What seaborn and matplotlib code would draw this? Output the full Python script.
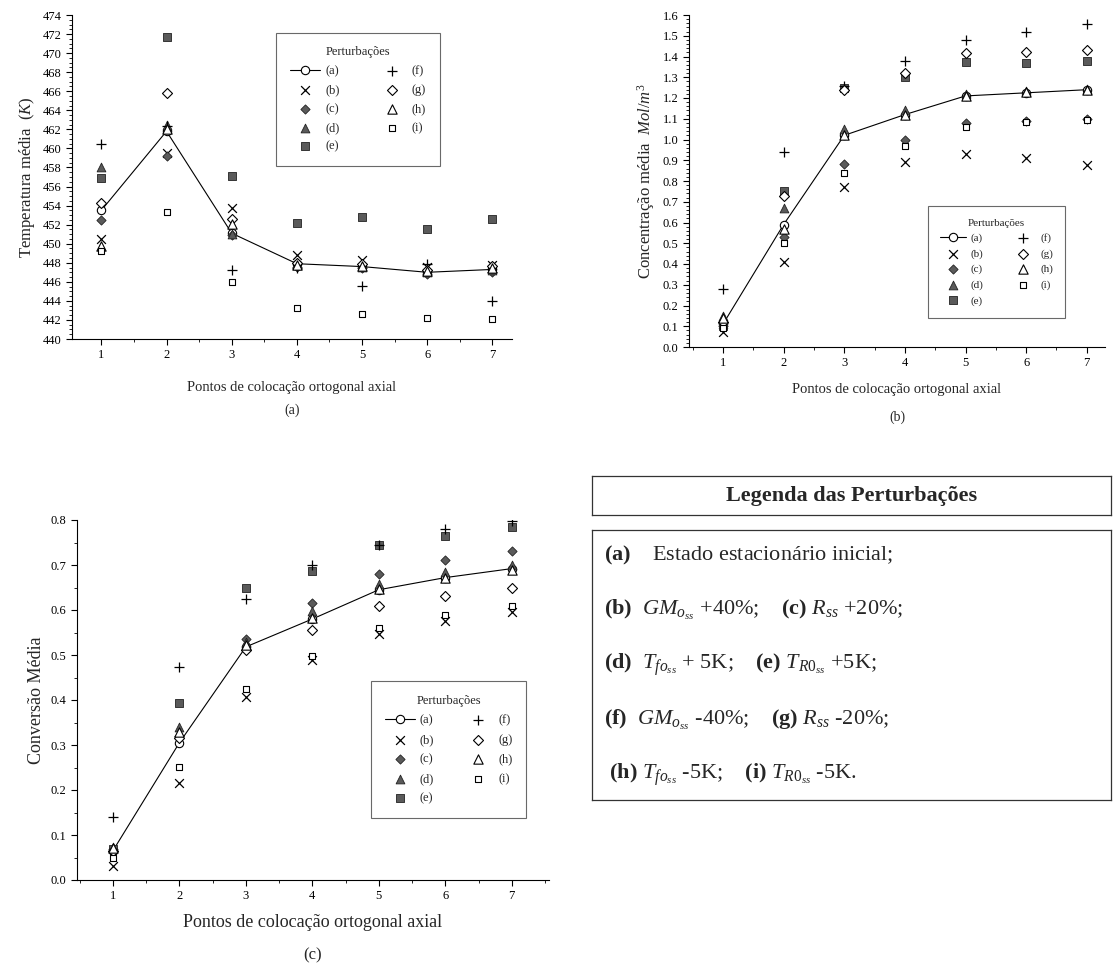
import matplotlib
matplotlib.use('Agg')
import matplotlib.pyplot as plt
import seaborn as sns
from matplotlib.ticker import MultipleLocator

# DATA ##

pontos = [1, 2, 3, 4, 5, 6, 7]
rotulos = ['(a)', '(b)', '(c)', '(d)', '(e)', '(f)', '(g)', '(h)', '(i)']

# Temperatura media (K)
temp_a = [453.5, 461.8, 451.1, 447.9, 447.6, 447.0, 447.3]
temp_b = [450.5, 459.5, 453.7, 448.8, 448.3, 447.6, 447.8]
temp_c = [452.5, 459.2, 450.9, 447.6, 447.4, 446.8, 447.0]
temp_d = [458.0, 462.5, 451.0, 447.8, 447.6, 447.0, 447.2]
temp_e = [456.9, 471.7, 457.1, 452.2, 452.8, 451.5, 452.6]
temp_f = [460.5, 462.3, 447.2, 447.5, 445.6, 447.9, 444.0]
temp_g = [454.3, 465.8, 452.6, 448.0, 447.9, 447.2, 447.7]
temp_h = [449.8, 462.0, 452.1, 447.8, 447.7, 447.1, 447.4]
temp_i = [449.2, 453.3, 446.0, 443.3, 442.6, 442.2, 442.1]

# Concentracao media (Mol/m3)
conc_a = [0.11, 0.59, 1.02, 1.12, 1.21, 1.225, 1.24]
conc_b = [0.07, 0.41, 0.77, 0.89, 0.93, 0.91, 0.875]
conc_c = [0.10, 0.53, 0.88, 1.00, 1.08, 1.087, 1.10]
conc_d = [0.15, 0.67, 1.05, 1.14, 1.22, 1.235, 1.245]
conc_e = [0.10, 0.75, 1.25, 1.30, 1.375, 1.37, 1.38]
conc_f = [0.28, 0.94, 1.26, 1.38, 1.48, 1.52, 1.555]
conc_g = [0.12, 0.73, 1.24, 1.32, 1.415, 1.42, 1.43]
conc_h = [0.14, 0.57, 1.02, 1.12, 1.21, 1.23, 1.24]
conc_i = [0.09, 0.50, 0.84, 0.97, 1.06, 1.085, 1.095]

# Conversao media
conv_a = [0.065, 0.305, 0.518, 0.580, 0.645, 0.672, 0.692]
conv_b = [0.032, 0.216, 0.407, 0.490, 0.546, 0.576, 0.596]
conv_c = [0.068, 0.320, 0.535, 0.616, 0.681, 0.711, 0.731]
conv_d = [0.073, 0.341, 0.530, 0.598, 0.657, 0.684, 0.701]
conv_e = [0.070, 0.393, 0.650, 0.687, 0.744, 0.764, 0.785]
conv_f = [0.140, 0.474, 0.625, 0.700, 0.745, 0.779, 0.798]
conv_g = [0.065, 0.316, 0.512, 0.556, 0.610, 0.631, 0.650]
conv_h = [0.072, 0.330, 0.522, 0.583, 0.646, 0.672, 0.690]
conv_i = [0.050, 0.252, 0.424, 0.498, 0.561, 0.590, 0.609]

temp = dict(zip(rotulos, [temp_a, temp_b, temp_c, temp_d, temp_e, temp_f, temp_g, temp_h, temp_i]))
conc = dict(zip(rotulos, [conc_a, conc_b, conc_c, conc_d, conc_e, conc_f, conc_g, conc_h, conc_i]))
conv = dict(zip(rotulos, [conv_a, conv_b, conv_c, conv_d, conv_e, conv_f, conv_g, conv_h, conv_i]))

# STYLE ##

sns.set_style('ticks')
plt.rcParams['font.family'] = ['Liberation Serif', 'DejaVu Serif']
plt.rcParams['mathtext.fontset'] = 'custom'
plt.rcParams['mathtext.rm'] = 'Liberation Serif'
plt.rcParams['mathtext.it'] = 'Liberation Serif:italic'
plt.rcParams['mathtext.bf'] = 'Liberation Serif:bold'

cinza = '#5a5a5a'
estilos = {
    '(b)': dict(marker='x', color='black', s=40, linewidth=0.9),
    '(c)': dict(marker='D', facecolor=cinza, edgecolor='#222222', s=22, linewidth=0.6),
    '(d)': dict(marker='^', facecolor=cinza, edgecolor='#222222', s=40, linewidth=0.6),
    '(e)': dict(marker='s', facecolor=cinza, edgecolor='#222222', s=26, linewidth=0.6),
    '(f)': dict(marker='+', color='black', s=45, linewidth=0.9),
    '(g)': dict(marker='D', facecolor='white', edgecolor='black', s=26, linewidth=0.8),
    '(h)': dict(marker='^', facecolor='white', edgecolor='black', s=45, linewidth=0.8),
    '(i)': dict(marker='s', facecolor='white', edgecolor='black', s=24, linewidth=0.8),
}


def desenha(ax, dados, anchor, fonte_leg, espaco, colunas):
    # Line for the initial steady state
    sns.lineplot(x=pontos, y=dados['(a)'], ax=ax, color='black', linewidth=0.8,
                 marker='o', markersize=6, markerfacecolor='white',
                 markeredgecolor='black', markeredgewidth=0.8, label='(a)')
    # Scatter for each perturbation
    for r in rotulos[1:]:
        sns.scatterplot(x=pontos, y=dados[r], ax=ax, label=r, zorder=3, **estilos[r])
    leg = ax.legend(ncol=2, title='Perturbações', loc='upper left', bbox_to_anchor=anchor,
                    frameon=True, fancybox=False, fontsize=fonte_leg, title_fontsize=fonte_leg,
                    handlelength=2.4, columnspacing=colunas, labelspacing=espaco, borderpad=1.1,
                    handletextpad=0.4)
    leg.get_frame().set_edgecolor('#444444')
    leg.get_frame().set_linewidth(0.8)
    sns.despine(ax=ax)
    ax.xaxis.set_major_locator(MultipleLocator(1))
    ax.xaxis.set_minor_locator(MultipleLocator(0.5))
    ax.tick_params(which='major', direction='out', length=4, width=0.8, colors='black')
    ax.tick_params(which='minor', direction='out', length=2, width=0.6, colors='black')
    for s in ax.spines.values():
        s.set_linewidth(0.8)
        s.set_color('black')


fig = plt.figure(figsize=(11.13, 9.65), dpi=100)
W, H = 1113, 965


def caixa(x0, y0, x1, y1):
    return [x0 / W, 1 - y1 / H, (x1 - x0) / W, (y1 - y0) / H]


# Panel (a)
ax1 = fig.add_axes(caixa(72, 15, 512, 339))
desenha(ax1, temp, (0.45, 0.965), 9, 0.55, 3.0)
ax1.set_xlim(0.55, 7.3)
ax1.set_ylim(440, 474)
ax1.yaxis.set_major_locator(MultipleLocator(2))
ax1.yaxis.set_minor_locator(MultipleLocator(0.5))
ax1.tick_params(labelsize=9)
ax1.set_ylabel('Temperatura média  $(K)$', fontsize=12)
ax1.set_xlabel('Pontos de colocação ortogonal axial', fontsize=10.5, labelpad=14)
fig.text(292 / W, 1 - 410 / H, '(a)', ha='center', va='center', fontsize=10)

# Panel (b)
ax2 = fig.add_axes(caixa(689, 15, 1105, 347))
desenha(ax2, conc, (0.56, 0.44), 8, 0.5, 2.3)
ax2.set_xlim(0.44, 7.3)
ax2.set_ylim(0.0, 1.6)
ax2.yaxis.set_major_locator(MultipleLocator(0.1))
ax2.yaxis.set_minor_locator(MultipleLocator(0.02))
ax2.tick_params(labelsize=9)
ax2.set_ylabel('Concentração média  $Mol/m^3$', fontsize=12)
ax2.set_xlabel('Pontos de colocação ortogonal axial', fontsize=10.5, labelpad=10)
fig.text(897 / W, 1 - 417 / H, '(b)', ha='center', va='center', fontsize=10)

# Panel (c)
ax3 = fig.add_axes(caixa(77, 520, 549, 880))
desenha(ax3, conv, (0.61, 0.57), 9, 0.6, 2.3)
ax3.set_xlim(0.46, 7.56)
ax3.set_ylim(0.0, 0.8)
ax3.yaxis.set_major_locator(MultipleLocator(0.1))
ax3.yaxis.set_minor_locator(MultipleLocator(0.05))
ax3.tick_params(labelsize=9)
ax3.set_ylabel('Conversão Média', fontsize=13)
ax3.set_xlabel('Pontos de colocação ortogonal axial', fontsize=13, labelpad=8)
fig.text(313 / W, 1 - 955 / H, '(c)', ha='center', va='center', fontsize=12)

# Legend boxes (bottom right)
tit = fig.add_axes(caixa(592, 476, 1111, 515))
corpo = fig.add_axes(caixa(592, 530, 1111, 800))
for a in (tit, corpo):
    a.set_xticks([])
    a.set_yticks([])
    for s in a.spines.values():
        s.set_linewidth(0.9)
        s.set_color('#333333')
tit.text(0.5, 0.5, 'Legenda das Perturbações', ha='center', va='center',
         fontsize=16, fontweight='bold', transform=tit.transAxes)

linhas = [
    r'$\mathbf{(a)}$    Estado estacionário inicial;',
    r'$\mathbf{(b)}$  $GM_{o_{ss}}$ +40%;    $\mathbf{(c)}$ $R_{ss}$ +20%;',
    r'$\mathbf{(d)}$  $T_{fo_{ss}}$ + 5K;    $\mathbf{(e)}$ $T_{R0_{ss}}$ +5K;',
    r'$\mathbf{(f)}$  $GM_{o_{ss}}$ -40%;    $\mathbf{(g)}$ $R_{ss}$ -20%;',
    r' $\mathbf{(h)}$ $T_{fo_{ss}}$ -5K;    $\mathbf{(i)}$ $T_{R0_{ss}}$ -5K.',
]
ys = [555, 610, 665, 720, 775]
for txt, yy in zip(linhas, ys):
    fig.text(604 / W, 1 - yy / H, txt, ha='left', va='center', fontsize=16)

plt.savefig('out.png', dpi=100)
